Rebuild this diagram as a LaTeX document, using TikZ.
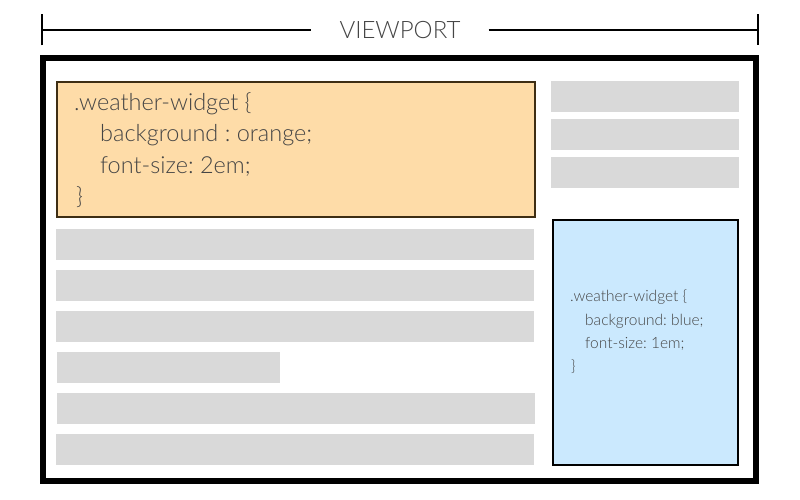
\documentclass[tikz,border=0pt]{standalone}
\usepackage{fontspec}
\setmainfont{Lato Light}
\frenchspacing
\usetikzlibrary{arrows.meta,positioning}

\definecolor{barGray}{HTML}{D9D9D9}
\definecolor{orangeFill}{HTML}{FEDCA8}
\definecolor{orangeLine}{HTML}{3E2E14}
\definecolor{blueFill}{HTML}{CBE9FE}
\definecolor{codeText}{HTML}{454545}

\begin{document}
\begin{tikzpicture}[x=1pt,y=-1pt]
  \tikzset{
    bar/.style={fill=barGray,rectangle,minimum height=31pt,inner sep=0pt,outer sep=0pt},
    widget/.style={draw,rectangle,inner sep=0pt,outer sep=0pt,line width=2pt},
    code/.style={text=codeText,align=left,anchor=west,inner sep=0pt}
  }
  \useasboundingbox (0,0) rectangle (800,500);

%%%%%%%%%%%%%%%%%%%%%%%%%%
% VIEWPORT dimension
  \node (NViewport)[text=codeText,inner xsep=28pt,inner ysep=0pt,font=\fontsize{24}{24}\selectfont] at (400,30) {VIEWPORT};
  \coordinate (DimLeft) at (41,30);
  \coordinate (DimRight) at (759,30);
  \draw [line width=2pt,{Bar[width=31pt]}-] (DimLeft) -- (NViewport.west);
  \draw [line width=2pt,-{Bar[width=31pt]}] (NViewport.east) -- (DimRight);

%%%%%%%%%%%%%%%%%%%%%%%%%%
% frame
  \node[draw,rectangle,minimum width=713pt,minimum height=423pt,inner sep=0pt,outer sep=0pt,line width=6pt] at (399.5,269.5) (Frame) {};

%%%%%%%%%%%%%%%%%%%%%%%%%%
% left column
  \node[widget,draw=orangeLine,fill=orangeFill,minimum width=478pt,minimum height=135pt] at (296,149.5) (OrangeWidget) {};
  \node (OrangeCode)[code,font=\fontsize{23.5}{31.3}\selectfont] at (74,150)
    {.weather-widget \{\\\hspace*{26pt}background : orange;\\\hspace*{26pt}font-size: 2em;\\\hspace*{2pt}\}};

  \node[bar,minimum width=478pt] at (295,244.5) (BarA) {};
  \node[bar,minimum width=478pt] at (295,285.5) (BarB) {};
  \node[bar,minimum width=478pt] at (295,326.5) (BarC) {};
  \node[bar,minimum width=223pt] at (168.5,367.5) (BarD) {};
  \node[bar,minimum width=478pt] at (295.5,408.5) (BarE) {};
  \node[bar,minimum width=478pt] at (295,449.5) (BarF) {};

%%%%%%%%%%%%%%%%%%%%%%%%%%
% right column
  \node[bar,minimum width=188pt] at (645,96.5) (SideA) {};
  \node[bar,minimum width=188pt] at (645,134.5) (SideB) {};
  \node[bar,minimum width=188pt] at (645,172.5) (SideC) {};

  \node[widget,fill=blueFill,minimum width=185pt,minimum height=245pt] at (645.5,342.5) (BlueWidget) {};
  \node (BlueCode)[code,font=\fontsize{15.5}{23.3}\selectfont] at (570,332)
    {.weather-widget \{\\\hspace*{15pt}background: blue;\\\hspace*{15pt}font-size: 1em;\\\hspace*{1pt}\}};

\end{tikzpicture}
\end{document}
